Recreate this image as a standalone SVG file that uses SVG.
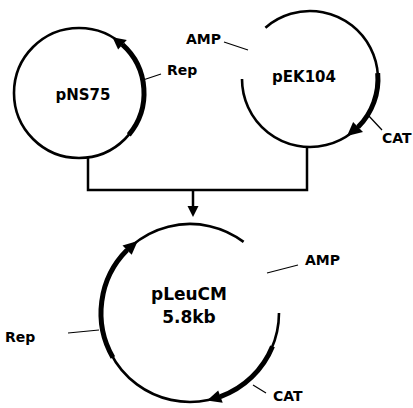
<svg xmlns="http://www.w3.org/2000/svg" width="413" height="408" viewBox="0 0 413 408">
<style>
.ring{fill:none;stroke:#000;stroke-width:2.6}
.gene{fill:none;stroke:#000;stroke-width:5}
.head{fill:#000;stroke:none}
.lead{stroke:#000;stroke-width:1.2;fill:none}
.conn{stroke:#000;stroke-width:2.5;fill:none}
text{font-family:"DejaVu Sans","Liberation Sans",sans-serif;font-weight:bold;fill:#000}
.name{font-size:15px;text-anchor:middle}
.big{font-size:17px;text-anchor:middle}
.lbl{font-size:14px}
</style>
<rect width="413" height="408" fill="#fff"/>
<g id="connectors">
<polyline class="conn" points="88,157 88,190 307,190 307,147"/>
<line class="conn" x1="193" y1="190" x2="193" y2="208"/>
<polygon class="head" points="187.5,206 198.5,206 193,217"/>
</g>
<g id="pNS75">
<circle class="ring" cx="79" cy="93" r="65"/>
<path class="gene" d="M128.8 134.8 A65 65 0 0 0 122.5 44.7"/>
<polygon class="head" points="126.8,39.9 118.1,49.5 112.5,37.3"/>
<text class="name" x="83" y="100">pNS75</text>
<line class="lead" x1="143" y1="80" x2="161" y2="74"/>
<text class="lbl" x="167" y="75">Rep</text>
</g>
<g id="pEK104">
<path class="ring" d="M265.4 27.7 A68 68 0 1 1 242 79"/>
<path class="gene" d="M377.7 73.1 A68 68 0 0 1 358.1 127.1"/>
<polygon class="head" points="363,132 353.1,122.1 347,136"/>
<text class="name" x="304" y="82">pEK104</text>
<line class="lead" x1="224" y1="42" x2="248" y2="50"/>
<text class="lbl" x="186" y="44">AMP</text>
<line class="lead" x1="367" y1="114" x2="382" y2="130"/>
<text class="lbl" x="382" y="143">CAT</text>
</g>
<g id="pLeuCM">
<path class="ring" d="M279 313 A89 89 0 1 1 243.6 241.9"/>
<path class="gene" d="M112.9 357.5 A89 89 0 0 1 127.1 250.1"/>
<polygon class="head" points="122.5,245.5 131.7,254.7 137.7,241"/>
<path class="gene" d="M272.5 346.4 A89 89 0 0 1 220.4 396.6"/>
<polygon class="head" points="222.7,402.7 218.2,390.5 207,400.4"/>
<text class="big" x="189" y="300">pLeuCM</text>
<text class="big" x="189" y="323">5.8kb</text>
<line class="lead" x1="267" y1="273" x2="298" y2="265"/>
<text class="lbl" x="305" y="265">AMP</text>
<line class="lead" x1="68" y1="333" x2="99" y2="330"/>
<text class="lbl" x="5" y="342">Rep</text>
<line class="lead" x1="253" y1="385" x2="266" y2="393"/>
<text class="lbl" x="273" y="401">CAT</text>
</g>
</svg>
